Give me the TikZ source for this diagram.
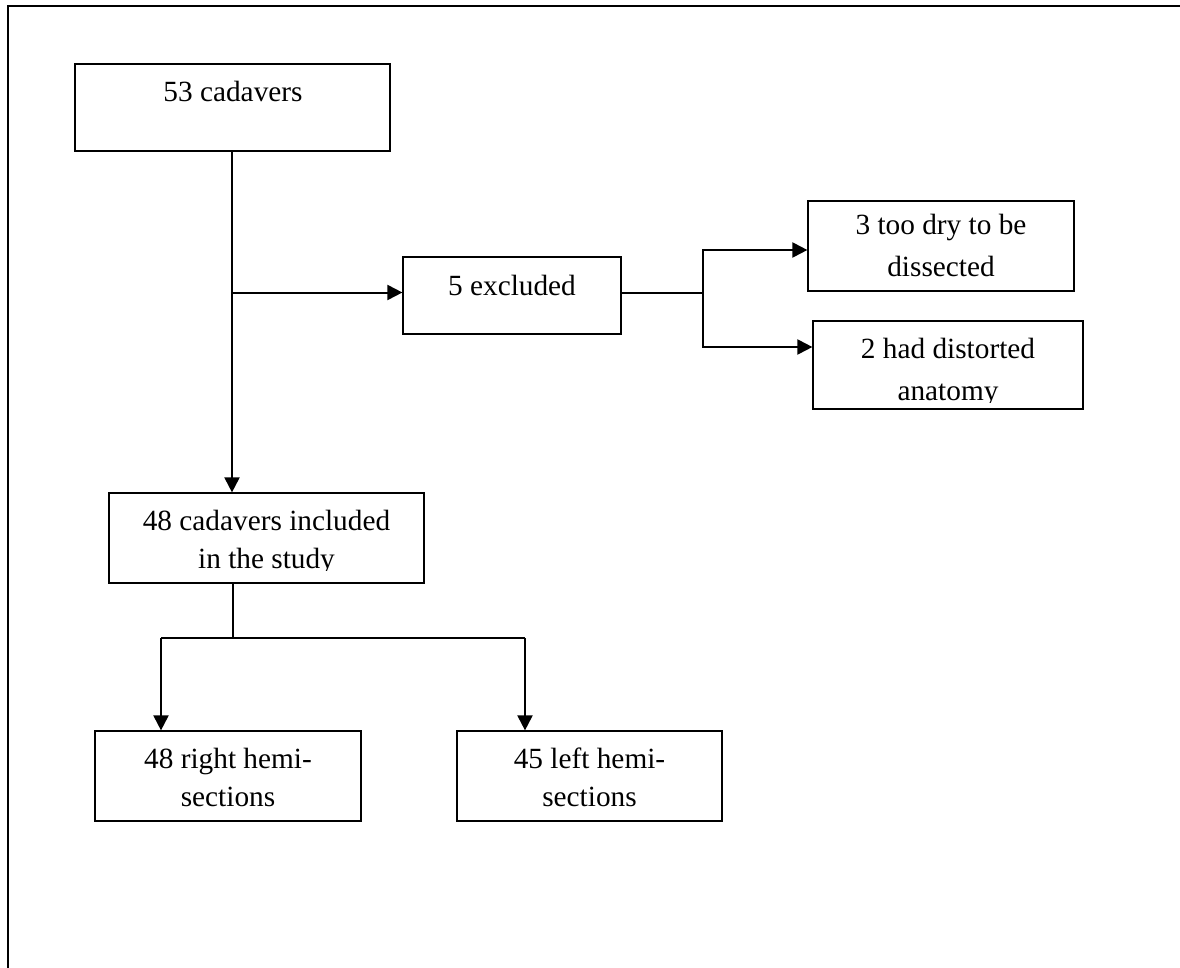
\documentclass[tikz,border=0pt]{standalone}
\usepackage{fontspec}
\setmainfont{Liberation Serif}
\usetikzlibrary{arrows.meta}
\tikzset{
  box/.style={draw, rectangle, line width=1.2pt, inner sep=0pt},
  txt/.style={anchor=base, inner sep=0pt, font=\fontsize{29.3}{36}\selectfont},
  conn/.style={line width=2pt, -{Triangle[length=15pt,width=15pt]}},
  plain/.style={line width=2pt},
  frame/.style={line width=2.5pt}
}
\begin{document}
\begin{tikzpicture}[x=1pt,y=-1pt]
\useasboundingbox (0,0) rectangle (1180,968);
% frame (only top and left edges visible)
\coordinate (fTR) at (1180,6);
\coordinate (fTL) at (8,6);
\coordinate (fBL) at (8,968);
\draw[frame] (fTR) -- (fTL) -- (fBL);

% boxes
\node[box, minimum width=315pt, minimum height=87pt] (A) at (232.5,107.5) {};
\node[box, minimum width=218pt, minimum height=77pt] (B) at (512,295.5) {};
\node[box, minimum width=266pt, minimum height=90pt] (D) at (941,246) {};
\node[box, minimum width=270pt, minimum height=88pt] (E) at (948,365) {};
\node[box, minimum width=315pt, minimum height=90pt] (C) at (266.5,538) {};
\node[box, minimum width=266pt, minimum height=90pt] (F) at (228,776) {};
\node[box, minimum width=265pt, minimum height=90pt] (G) at (589.5,776) {};

% texts
\node[txt] (tA) at (233,101.5) {53 cadavers};
\node[txt] (tB) at (512,295) {5 excluded};
\node[txt] (tD1) at (941,234.3) {3 too dry to be};
\node[txt] (tD2) at (941,276.7) {dissected};
\node[txt] (tE1) at (948,358.3) {2 had distorted};
\begin{scope}
\clip (813,380) rectangle (1083,402.5);
\node[txt] (tE2) at (948,400) {anatomy};
\end{scope}
\node[txt] (tC1) at (266.5,530.5) {48 cadavers included};
\begin{scope}
\clip (109,540) rectangle (424,570.5);
\node[txt] (tC2) at (266.5,568.3) {in the study};
\end{scope}
\node[txt] (tF1) at (228,768.3) {48 right hemi-};
\node[txt] (tF2) at (228,806.7) {sections};
\node[txt] (tG1) at (589.5,768.3) {45 left hemi-};
\node[txt] (tG2) at (589.5,806.7) {sections};

% connectors
\coordinate (xA) at (232,0);
\coordinate (yB) at (0,292.5);
\coordinate (jA) at (A.south -| xA);
\coordinate (jB) at (xA |- yB);
\draw[conn] (jA) -- (jA |- C.north);
\draw[conn] (jB) -- (B.west |- yB);

\coordinate (fork) at (703,292.5);
\coordinate (yD) at (0,250);
\coordinate (yE) at (0,347);
\draw[plain] (B.east |- yB) -- (fork);
\draw[conn] (fork) |- (D.west |- yD);
\draw[conn] (fork) |- (E.west |- yE);

\coordinate (xC) at (233,0);
\coordinate (cOut) at (C.south -| xC);
\coordinate (cJ) at (233,638);
\coordinate (lJ) at (161,638);
\coordinate (rJ) at (525,638);
\draw[plain] (cOut) -- (cJ);
\draw[plain] (lJ) -- (rJ);
\draw[conn] (lJ) -- (lJ |- F.north);
\draw[conn] (rJ) -- (rJ |- G.north);
\end{tikzpicture}
\end{document}
